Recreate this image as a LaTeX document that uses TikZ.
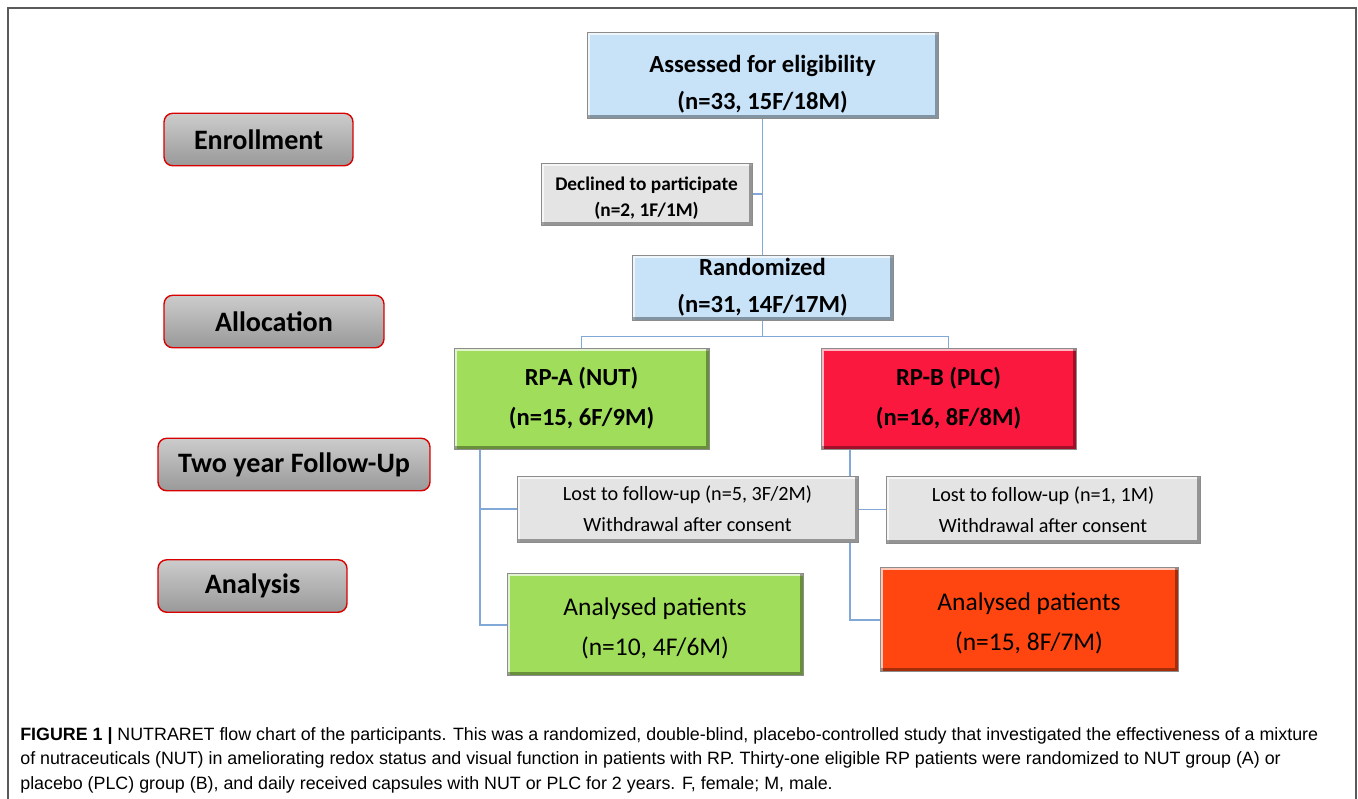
\documentclass[tikz,border=0pt]{standalone}
\usepackage{fontspec}
\setmainfont{Carlito}
\newfontfamily\capfont{Liberation Sans}
\usetikzlibrary{backgrounds}

\definecolor{boxblue}{RGB}{200,226,248}
\definecolor{boxgray}{RGB}{228,228,228}
\definecolor{nutgreen}{RGB}{160,221,90}
\definecolor{plcred}{RGB}{250,24,62}
\definecolor{anred}{RGB}{255,70,16}
\definecolor{linkblue}{RGB}{130,168,215}
\definecolor{framegray}{RGB}{90,90,90}

\begin{document}
\begin{tikzpicture}[x=0.02cm, y=-0.02cm,
    bevel/.style={path picture={
      \draw[white, opacity=0.7, line width=3pt]
        (path picture bounding box.south west) -- (path picture bounding box.north west)
        -- (path picture bounding box.north east);
      \draw[black, opacity=0.35, line width=3pt]
        (path picture bounding box.north east) -- (path picture bounding box.south east)
        -- (path picture bounding box.south west);}},
    flowbox/.style={bevel, draw=black!45, line width=0.5pt, align=center, inner sep=2pt},
    bluebox/.style={flowbox, fill=boxblue, font={\fontsize{14}{21}\selectfont\bfseries}},
    graybox/.style={flowbox, fill=boxgray},
    groupbox/.style={flowbox, font={\fontsize{14}{23}\selectfont\bfseries}},
    resultbox/.style={flowbox, font={\fontsize{14.5}{23}\selectfont}},
    stagebox/.style={draw=red!85!black, line width=0.8pt, rounded corners=5pt,
      top color=black!20, bottom color=black!40, middle color=black!30, minimum height=1.05cm,
      font={\fontsize{16}{18}\selectfont\bfseries}},
    link/.style={linkblue, line width=0.7pt}]

  \useasboundingbox (0,0) rectangle (1358,798);
  \draw[framegray, line width=1.2pt] (8,800) -- (8,8) -- (1356,8) -- (1356,800);

  % stage labels
  \node[stagebox, minimum width=3.78cm] (enroll) at (258.5,139.5) {Enrollment};
  \node[stagebox, minimum width=4.4cm] (alloc) at (274,321.5) {Allocation};
  \node[stagebox, minimum width=5.44cm] (follow) at (294,464.5) {Two year Follow-Up};
  \node[stagebox, minimum width=3.78cm] (analysis) at (252.5,586) {Analysis};

  % flow boxes
  \node[bluebox, minimum width=7.02cm, minimum height=1.72cm] (assess) at (762.5,75)
    {\rule{0pt}{20pt}Assessed for eligibility\\(n=33, 15F/18M)};
  \node[graybox, minimum width=4.22cm, minimum height=1.24cm,
    font={\fontsize{11}{15.3}\selectfont\bfseries}] (declined) at (646.5,194)
    {\rule{0pt}{12.5pt}Declined to participate\\(n=2, 1F/1M)};
  \node[bluebox, minimum width=5.22cm, minimum height=1.26cm] (random) at (762.5,287.5)
    {Randomized\\(n=31, 14F/17M)};
  \node[groupbox, fill=nutgreen, minimum width=5.1cm, minimum height=2.02cm] (rpa) at (581.5,398.5)
    {RP-A (NUT)\\(n=15, 6F/9M)};
  \node[groupbox, fill=plcred, minimum width=5.1cm, minimum height=2.02cm] (rpb) at (948.5,398.5)
    {RP-B (PLC)\\(n=16, 8F/8M)};
  \node[graybox, minimum width=6.82cm, minimum height=1.32cm,
    font={\fontsize{11.5}{17.6}\selectfont}] (lostA) at (687.5,509)
    {Lost to follow-up (n=5, 3F/2M)\\Withdrawal after consent};
  \node[graybox, minimum width=6.28cm, minimum height=1.34cm,
    font={\fontsize{11.5}{17.6}\selectfont}] (lostB) at (1043,509.5)
    {Lost to follow-up (n=1, 1M)\\Withdrawal after consent};
  \node[resultbox, fill=nutgreen, minimum width=5.92cm, minimum height=2.04cm] (anA) at (655,624)
    {\rule{0pt}{15pt}Analysed patients\\(n=10, 4F/6M)};
  \node[resultbox, fill=anred, minimum width=5.96cm, minimum height=2.08cm] (anB) at (1029,619)
    {\rule{0pt}{15pt}Analysed patients\\(n=15, 8F/7M)};

  % connectors
  \coordinate (ja) at (480,625);
  \coordinate (jb) at (850,620);
  \begin{scope}[on background layer]
    \draw[link] (assess.south) -- (random.north);
    \draw[link] (declined.east) -- (declined.east -| assess.south);
    \draw[link] (random.south) -- ++(0,16) -| (rpa.north);
    \draw[link] (random.south) -- ++(0,16) -| (rpb.north);
    \draw[link] (rpa.south -| ja) -- (ja) -- (ja -| anA.west);
    \draw[link] (lostA.west) -- (lostA.west -| ja);
    \draw[link] (rpb.south -| jb) -- (jb) -- (jb -| anB.west);
    \draw[link] (lostB.west) -- (lostB.west -| jb);
  \end{scope}

  % caption
  \node[anchor=north west, inner sep=0pt, align=left,
    font={\capfont\fontsize{10.15}{13.9}\selectfont}] (caption) at (20,727)
    {\textbf{FIGURE 1 |} NUTRARET flow chart of the participants. This was a randomized, double-blind, placebo-controlled study that investigated the effectiveness of a mixture\\
     of nutraceuticals (NUT) in ameliorating redox status and visual function in patients with RP. Thirty-one eligible RP patients were randomized to NUT group (A) or\\
     placebo (PLC) group (B), and daily received capsules with NUT or PLC for 2 years. F, female; M, male.};
\end{tikzpicture}
\end{document}
